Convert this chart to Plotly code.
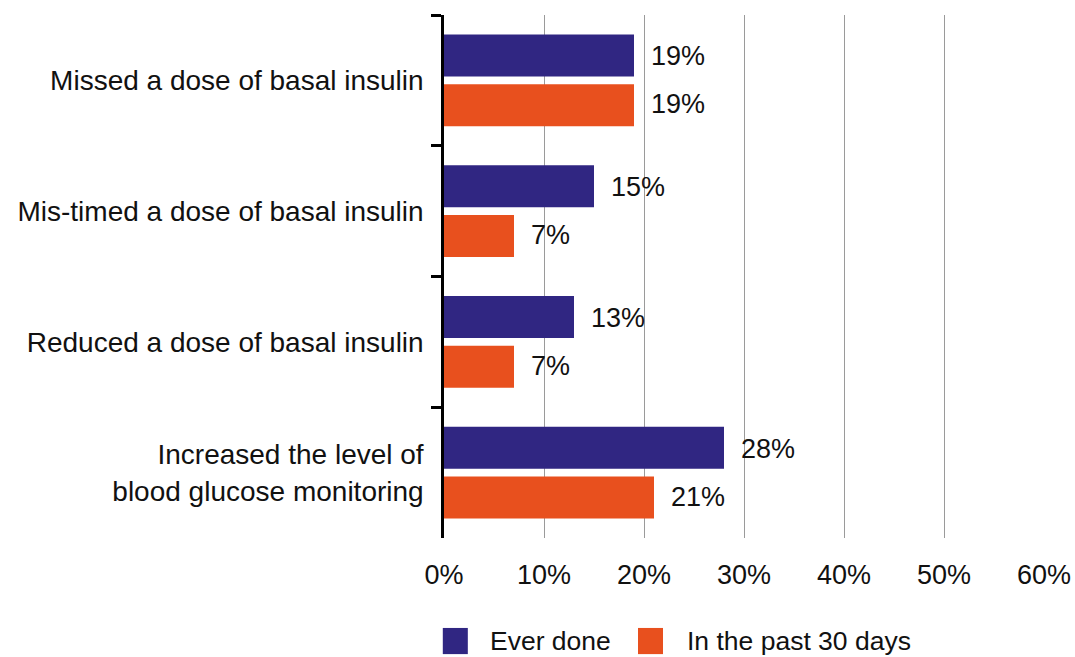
import plotly.graph_objects as go

categories = [
    "Missed a dose of basal insulin",
    "Mis-timed a dose of basal insulin",
    "Reduced a dose of basal insulin",
    "Increased the level of<br>blood glucose monitoring",
]
series_names = ["Ever done", "In the past 30 days"]
ever_done = [19, 15, 13, 28]
past_30_days = [19, 7, 7, 21]
x_tick_values = [0, 10, 20, 30, 40, 50, 60]
x_tick_labels = ["0%", "10%", "20%", "30%", "40%", "50%", "60%"]

BLUE = "#302682"
ORANGE = "#E8501E"
FONT = "Liberation Sans, Arial, Helvetica, sans-serif"

fig = go.Figure()
series = [(series_names[0], ever_done, BLUE), (series_names[1], past_30_days, ORANGE)]
for name, vals, col in series:
    fig.add_trace(go.Bar(
        name=name, x=vals, y=categories, orientation="h",
        marker=dict(color=col, line=dict(width=0)),
        showlegend=False,
    ))

# value labels
for i, (name, vals, col) in enumerate(series):
    shift = 24 if i == 0 else -24
    for cat, v in zip(categories, vals):
        fig.add_annotation(
            x=v, y=cat, xref="x", yref="y", text=f"{v}%",
            showarrow=False, xanchor="left", yanchor="middle",
            xshift=15, yshift=shift,
            font=dict(family=FONT, size=27, color="#111111"),
        )

# manual legend (large square swatches)
legend_pos = [(-0.002, 0.0733), (0.3233, 0.4017)]
for (name, vals, col), (sx, tx) in zip(series, legend_pos):
    fig.add_shape(type="rect", xref="paper", yref="paper",
                  x0=sx, x1=sx + 0.0417, y0=-0.172, y1=-0.222,
                  fillcolor=col, line=dict(width=0))
    fig.add_annotation(x=tx, y=-0.197, xref="paper", yref="paper",
                       text=name, showarrow=False, xanchor="left", yanchor="middle",
                       font=dict(family=FONT, size=26.5, color="#111111"))

fig.update_layout(
    width=1075, height=657,
    margin=dict(l=444, r=31, t=15, b=119, autoexpand=False),
    paper_bgcolor="white", plot_bgcolor="white",
    barmode="group", bargap=0.237, bargroupgap=0.16,
    font=dict(family=FONT, size=26, color="#111111"),
    showlegend=False,
)
fig.update_xaxes(
    range=[0, 60], tickvals=x_tick_values, ticktext=x_tick_labels,
    showgrid=True, gridcolor="#9a9a9a", gridwidth=1,
    zeroline=False, showline=False, ticks="",
    ticklabelstandoff=18, ticklabeloverflow="allow", automargin=False,
    tickfont=dict(family=FONT, size=27, color="#111111"),
)
fig.update_yaxes(
    autorange="reversed", type="category", automargin=False,
    showline=True, linecolor="black", linewidth=2.5,
    ticks="outside", tickson="boundaries", ticklen=10, tickwidth=2.5, tickcolor="black",
    showgrid=False, ticklabelstandoff=12,
    tickfont=dict(family=FONT, size=28, color="#111111"),
)

fig.write_html(
    "out.html",
    config={"displayModeBar": False},
    post_script=(
        "document.documentElement.style.overflow='hidden';"
        "document.body.style.margin='0';document.body.style.padding='0';"
        "document.body.style.overflow='hidden';"
    ),
)
